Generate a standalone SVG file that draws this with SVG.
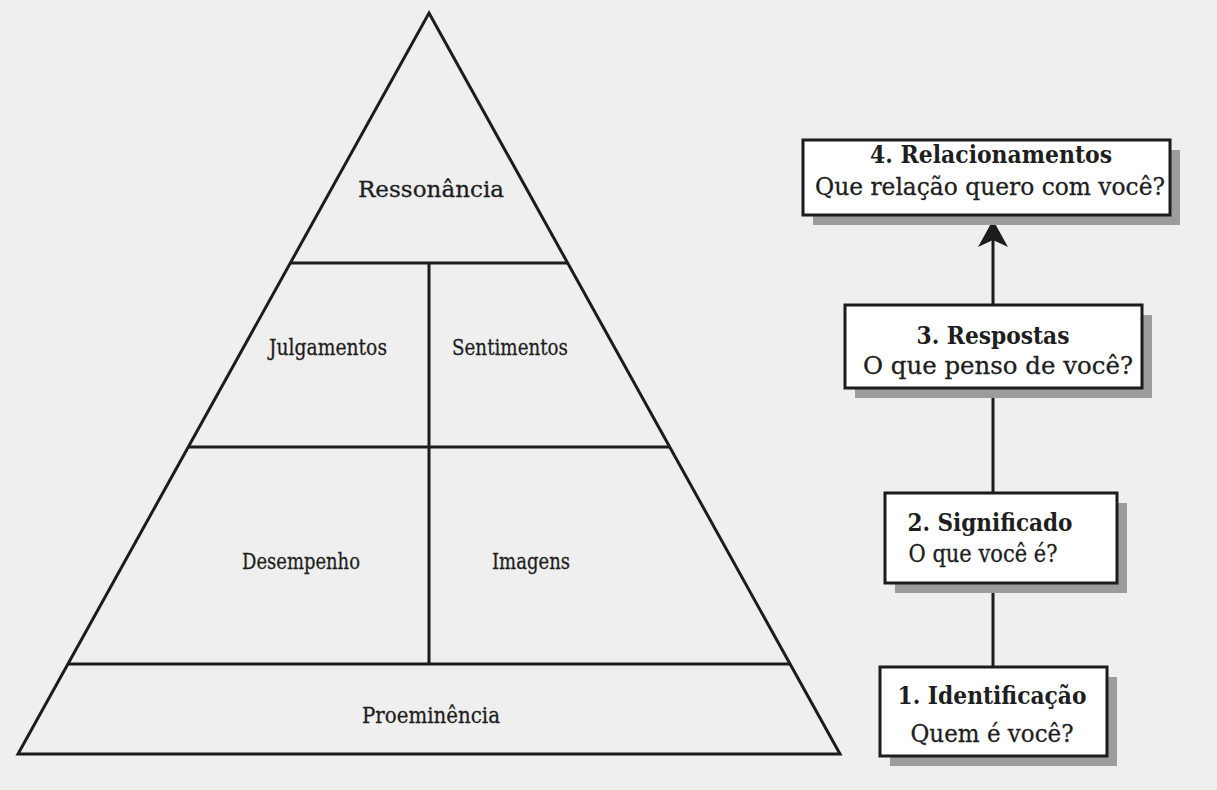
<svg xmlns="http://www.w3.org/2000/svg" width="1217" height="790" viewBox="0 0 1217 790">
<style>
.bg{fill:#efefef}
.pyr{fill:none;stroke:#1c1c1c;stroke-width:3;stroke-linejoin:miter}
.div{stroke:#1c1c1c;stroke-width:3}
.lbl{font-family:"DejaVu Serif","Liberation Serif",serif;font-size:23px;fill:#1e1e1e;stroke:#1e1e1e;stroke-width:0.3;text-anchor:middle}
.box{fill:#ffffff;stroke:#1c1c1c;stroke-width:3}
.shadow{fill:#9c9c9c}
.ttl{font-family:"DejaVu Serif","Liberation Serif",serif;font-size:24px;font-weight:bold;fill:#1e1e1e;text-anchor:middle}
.sub{font-family:"DejaVu Serif","Liberation Serif",serif;font-size:24px;fill:#1e1e1e;stroke:#1e1e1e;stroke-width:0.3;text-anchor:middle}
.conn{stroke:#1c1c1c;stroke-width:3;fill:none}
</style>
<rect class="bg" x="0" y="0" width="1217" height="790"/>

<g id="pyramid">
  <polygon class="pyr" points="429,13 840,754 18,754"/>
  <line class="div" x1="290" y1="263" x2="568" y2="263"/>
  <line class="div" x1="188" y1="447" x2="670" y2="447"/>
  <line class="div" x1="68" y1="664" x2="790" y2="664"/>
  <line class="div" x1="429" y1="263" x2="429" y2="664"/>
</g>
<g id="ressonancia"><text class="lbl" x="431" y="197" textLength="146" lengthAdjust="spacingAndGlyphs">Ressonância</text></g>
<g id="julgamentos"><text class="lbl" x="328" y="355" textLength="118" lengthAdjust="spacingAndGlyphs">Julgamentos</text></g>
<g id="sentimentos"><text class="lbl" x="510" y="355" textLength="116" lengthAdjust="spacingAndGlyphs">Sentimentos</text></g>
<g id="desempenho"><text class="lbl" x="301" y="569" textLength="118" lengthAdjust="spacingAndGlyphs">Desempenho</text></g>
<g id="imagens"><text class="lbl" x="531" y="569" textLength="78" lengthAdjust="spacingAndGlyphs">Imagens</text></g>
<g id="proeminencia"><text class="lbl" x="431" y="723" textLength="138" lengthAdjust="spacingAndGlyphs">Proeminência</text></g>

<g id="connectors">
  <line class="conn" x1="993" y1="667" x2="993" y2="583"/>
  <line class="conn" x1="993" y1="493" x2="993" y2="388"/>
  <line class="conn" x1="993" y1="305" x2="993" y2="236"/>
  <path d="M993,220 L1008,247 L993,240 L978,247 Z" fill="#1c1c1c"/>
</g>

<g id="box4">
  <rect class="shadow" x="813" y="150" width="367" height="75"/>
  <rect class="box" x="803" y="140" width="367" height="75"/>
  <text class="ttl" x="991" y="163" textLength="242" lengthAdjust="spacingAndGlyphs">4. Relacionamentos</text>
  <text class="sub" x="990" y="195" textLength="350" lengthAdjust="spacingAndGlyphs">Que relação quero com você?</text>
</g>
<g id="box3">
  <rect class="shadow" x="855" y="315" width="297" height="83"/>
  <rect class="box" x="845" y="305" width="297" height="83"/>
  <text class="ttl" x="993" y="344" textLength="153" lengthAdjust="spacingAndGlyphs">3. Respostas</text>
  <text class="sub" x="998" y="374" textLength="270" lengthAdjust="spacingAndGlyphs">O que penso de você?</text>
</g>
<g id="box2">
  <rect class="shadow" x="895" y="503" width="232" height="90"/>
  <rect class="box" x="885" y="493" width="232" height="90"/>
  <text class="ttl" x="990" y="531" textLength="165" lengthAdjust="spacingAndGlyphs">2. Significado</text>
  <text class="sub" x="983" y="562" textLength="149" lengthAdjust="spacingAndGlyphs">O que você é?</text>
</g>
<g id="box1">
  <rect class="shadow" x="890" y="677" width="227" height="89"/>
  <rect class="box" x="880" y="667" width="227" height="89"/>
  <text class="ttl" x="992" y="704" textLength="189" lengthAdjust="spacingAndGlyphs">1. Identificação</text>
  <text class="sub" x="992" y="742" textLength="163" lengthAdjust="spacingAndGlyphs">Quem é você?</text>
</g>
</svg>
